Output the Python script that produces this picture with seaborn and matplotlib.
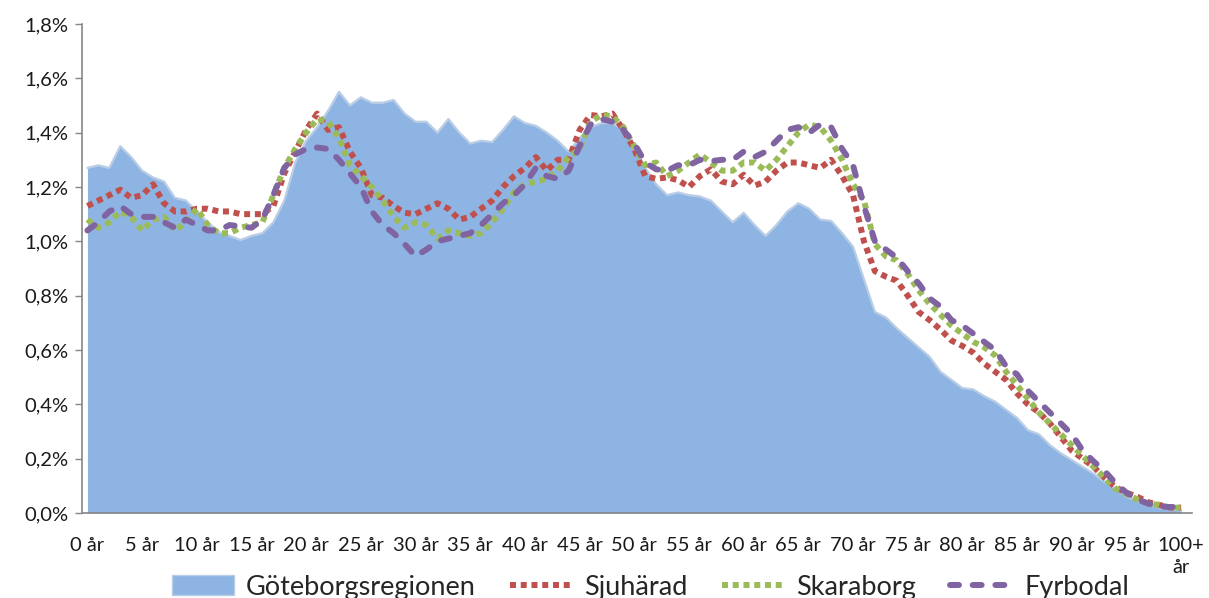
import numpy as np
import pandas as pd
import matplotlib
matplotlib.use("Agg")
import matplotlib.pyplot as plt
import seaborn as sns
from matplotlib.patches import Patch
from matplotlib.lines import Line2D

# ---------------- data ----------------
age_labels = [f"{i} år" for i in range(100)] + ["100+\når"]

goteborg = [1.27, 1.28, 1.27, 1.35, 1.31, 1.26, 1.235, 1.22, 1.16, 1.15,
            1.11, 1.07, 1.035, 1.02, 1.005, 1.02, 1.03, 1.07, 1.15, 1.29,
            1.37, 1.42, 1.48, 1.55, 1.50, 1.53, 1.51, 1.51, 1.52, 1.47,
            1.44, 1.44, 1.40, 1.45, 1.40, 1.36, 1.37, 1.365, 1.41, 1.46,
            1.435, 1.425, 1.40, 1.37, 1.33, 1.38, 1.42, 1.435, 1.435, 1.41,
            1.35, 1.27, 1.21, 1.17, 1.18, 1.17, 1.165, 1.15, 1.11, 1.07,
            1.105, 1.06, 1.02, 1.06, 1.11, 1.14, 1.12, 1.08, 1.075, 1.03,
            0.98, 0.86, 0.74, 0.72, 0.68, 0.645, 0.61, 0.575, 0.52, 0.49,
            0.46, 0.455, 0.43, 0.41, 0.38, 0.35, 0.305, 0.29, 0.25, 0.22,
            0.195, 0.17, 0.145, 0.115, 0.09, 0.06, 0.045, 0.03, 0.02, 0.013,
            0.01]

sjuharad = [1.13, 1.15, 1.17, 1.19, 1.16, 1.17, 1.21, 1.14, 1.11, 1.11,
            1.12, 1.12, 1.11, 1.11, 1.10, 1.10, 1.10, 1.13, 1.25, 1.33,
            1.41, 1.47, 1.41, 1.42, 1.33, 1.27, 1.17, 1.16, 1.13, 1.105,
            1.10, 1.12, 1.14, 1.12, 1.08, 1.09, 1.12, 1.15, 1.20, 1.24,
            1.27, 1.31, 1.26, 1.30, 1.30, 1.41, 1.465, 1.46, 1.47, 1.41,
            1.34, 1.24, 1.23, 1.235, 1.225, 1.20, 1.24, 1.265, 1.22, 1.21,
            1.245, 1.205, 1.22, 1.26, 1.29, 1.29, 1.28, 1.27, 1.30, 1.24,
            1.17, 1.00, 0.89, 0.87, 0.855, 0.80, 0.74, 0.71, 0.675, 0.635,
            0.615, 0.59, 0.55, 0.52, 0.49, 0.44, 0.40, 0.37, 0.33, 0.28,
            0.23, 0.20, 0.17, 0.13, 0.095, 0.075, 0.06, 0.04, 0.03, 0.02,
            0.02]

skaraborg = [1.08, 1.05, 1.07, 1.11, 1.09, 1.04, 1.08, 1.09, 1.04, 1.07,
             1.12, 1.06, 1.03, 1.03, 1.05, 1.06, 1.07, 1.17, 1.27, 1.34,
             1.40, 1.45, 1.44, 1.38, 1.28, 1.24, 1.20, 1.15, 1.09, 1.05,
             1.07, 1.06, 1.01, 1.04, 1.03, 1.02, 1.03, 1.07, 1.12, 1.18,
             1.21, 1.22, 1.23, 1.26, 1.31, 1.34, 1.44, 1.465, 1.46, 1.42,
             1.35, 1.28, 1.29, 1.24, 1.26, 1.29, 1.32, 1.29, 1.26, 1.26,
             1.29, 1.29, 1.26, 1.30, 1.35, 1.40, 1.43, 1.42, 1.37, 1.30,
             1.21, 1.15, 0.99, 0.945, 0.93, 0.88, 0.82, 0.77, 0.73, 0.69,
             0.66, 0.63, 0.61, 0.58, 0.52, 0.47, 0.42, 0.37, 0.33, 0.29,
             0.25, 0.21, 0.17, 0.13, 0.09, 0.07, 0.05, 0.035, 0.03, 0.02,
             0.02]

fyrbodal = [1.04, 1.07, 1.11, 1.13, 1.10, 1.09, 1.09, 1.07, 1.05, 1.08,
            1.06, 1.04, 1.04, 1.06, 1.055, 1.05, 1.08, 1.17, 1.27, 1.32,
            1.34, 1.345, 1.34, 1.30, 1.25, 1.20, 1.11, 1.06, 1.03, 0.99,
            0.945, 0.97, 1.00, 1.01, 1.02, 1.03, 1.06, 1.10, 1.14, 1.17,
            1.21, 1.27, 1.24, 1.23, 1.26, 1.35, 1.43, 1.45, 1.44, 1.41,
            1.36, 1.29, 1.265, 1.26, 1.28, 1.28, 1.30, 1.295, 1.30, 1.30,
            1.33, 1.31, 1.33, 1.37, 1.41, 1.42, 1.40, 1.43, 1.42, 1.34,
            1.28, 1.13, 1.00, 0.97, 0.94, 0.89, 0.845, 0.79, 0.76, 0.71,
            0.69, 0.66, 0.63, 0.60, 0.54, 0.51, 0.45, 0.41, 0.37, 0.33,
            0.29, 0.23, 0.19, 0.155, 0.11, 0.075, 0.05, 0.035, 0.025, 0.022,
            0.025]

series_names = ["Göteborgsregionen", "Sjuhärad", "Skaraborg", "Fyrbodal"]
y_ticks = [0.0, 0.2, 0.4, 0.6, 0.8, 1.0, 1.2, 1.4, 1.6, 1.8]

# ---------------- style ----------------
sns.set_theme(style="white")
plt.rcParams["font.family"] = ["Lato", "DejaVu Sans"]

c_area = "#8EB4E3"
c_edge = "#B9CDE5"
c_red = "#C0504D"
c_green = "#9BBB59"
c_purple = "#8064A2"
axis_grey = "#868686"
text_col = "#1a1a1a"

fig, ax = plt.subplots(figsize=(12.09, 5.98), dpi=100)
fig.subplots_adjust(left=0.0678, right=0.986, top=0.96, bottom=0.142)

x = np.arange(len(age_labels))
df = pd.DataFrame({"idx": x, "Göteborgsregionen": goteborg, "Sjuhärad": sjuharad,
                   "Skaraborg": skaraborg, "Fyrbodal": fyrbodal})

# area
ax.fill_between(df["idx"], df["Göteborgsregionen"], 0, color=c_area, lw=0, zorder=1)
sns.lineplot(data=df, x="idx", y="Göteborgsregionen", ax=ax, color=c_edge,
             linewidth=1.6, zorder=2, legend=False)

lw = 4.3
line_specs = [
    ("Sjuhärad", c_red, (1.0, 0.8), "butt"),
    ("Skaraborg", c_green, (1.0, 0.8), "butt"),
    ("Fyrbodal", c_purple, (1.5, 2.3), "round"),
]
for name, col, dash, cap in line_specs:
    n_before = len(ax.lines)
    sns.lineplot(data=df, x="idx", y=name, ax=ax, color=col, linewidth=lw,
                 zorder=3, legend=False)
    ln = ax.lines[n_before]
    ln.set_dashes(dash)
    ln.set_dash_capstyle(cap)
    ln.set_solid_capstyle(cap)

# axes
ax.set_xlim(-0.5, 101.0)
ax.set_ylim(0, 1.8)
ax.set_xlabel("")
ax.set_ylabel("")

ax.set_yticks(y_ticks)
ax.set_yticklabels([f"{v:.1f}%".replace(".", ",") for v in y_ticks], fontsize=14.5, color=text_col)

label_pos = list(range(0, 101, 5))
ax.set_xticks(label_pos)
ax.set_xticklabels([age_labels[i] for i in label_pos], fontsize=14.5, color=text_col,
                   linespacing=1.35)
ax.set_xticks([i - 0.5 for i in label_pos], minor=True)
ax.tick_params(axis="x", which="major", length=0, pad=17)
ax.tick_params(axis="x", which="minor", length=6, width=1, color=axis_grey, direction="out")
ax.tick_params(axis="y", which="major", length=5, width=1, color=axis_grey, direction="out", pad=5, left=True)

for s in ["top", "right"]:
    ax.spines[s].set_visible(False)
for s in ["left", "bottom"]:
    ax.spines[s].set_color(axis_grey)
    ax.spines[s].set_linewidth(1.2)
ax.grid(False)

# legend
handles = [Patch(facecolor=c_area, edgecolor=c_edge, linewidth=1)]
for name, col, dash, cap in line_specs:
    h = Line2D([0], [0], color=col, linewidth=lw)
    h.set_dashes(dash)
    h.set_dash_capstyle(cap)
    handles.append(h)
fig.legend(handles, series_names, loc="center", bbox_to_anchor=(0.538, 0.018),
           ncol=4, frameon=False, fontsize=19.5, handlelength=2.3, handleheight=0.75,
           handletextpad=0.45, columnspacing=1.25)

fig.savefig("out.png", dpi=100)
